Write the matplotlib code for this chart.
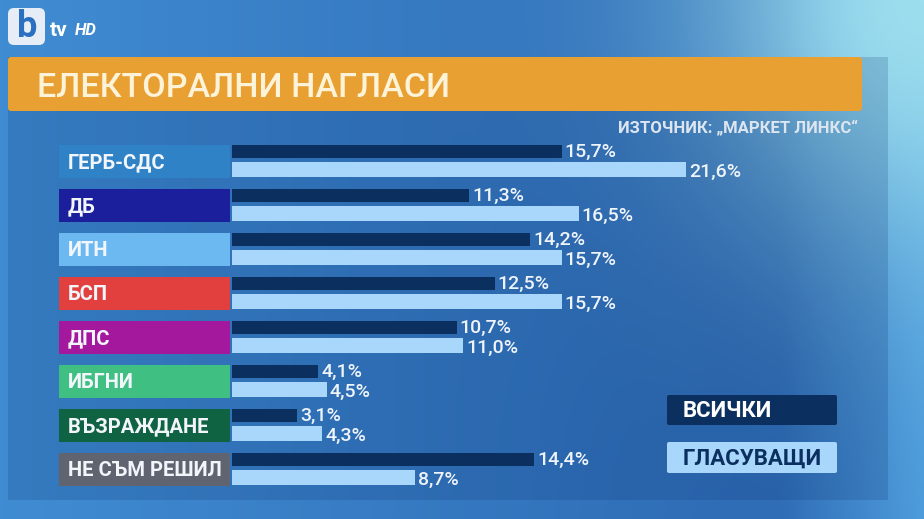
import numpy as np
import matplotlib.pyplot as plt
from matplotlib.patches import FancyBboxPatch, Rectangle

categories = ["ГЕРБ-СДС", "ДБ", "ИТН", "БСП", "ДПС", "ИБГНИ", "ВЪЗРАЖДАНЕ", "НЕ СЪМ РЕШИЛ"]
all_voters = [15.7, 11.3, 14.2, 12.5, 10.7, 4.1, 3.1, 14.4]
voting = [21.6, 16.5, 15.7, 15.7, 11.0, 4.5, 4.3, 8.7]
label_colors = ["#2f82c6", "#1b1f9c", "#6cb9f2", "#e2403f", "#a4189e", "#3fbf82", "#0f6342", "#5f6470"]
series_names = ["ВСИЧКИ", "ГЛАСУВАЩИ"]
title = "ЕЛЕКТОРАЛНИ НАГЛАСИ"
source = "ИЗТОЧНИК: „МАРКЕТ ЛИНКС“"

plt.rcParams['font.family'] = ['Roboto', 'DejaVu Sans']

W, H = 924, 519
fig = plt.figure(figsize=(9.24, 5.19), dpi=100)
bg = fig.add_axes([0, 0, 1, 1])
bg.set_xlim(0, W); bg.set_ylim(H, 0); bg.axis('off')

# background gradient
ny, nx = 60, 100
yy, xx = np.mgrid[0:1:ny * 1j, 0:1:nx * 1j]
c_left = np.array([0x40, 0x8c, 0xd2]) / 255
c_mid = np.array([0x2e, 0x6c, 0xb6]) / 255
c_right = np.array([0x4c, 0x9a, 0xda]) / 255
c_tr = np.array([0x9c, 0xde, 0xee]) / 255
t = np.clip(xx / 0.8, 0, 1)[..., None]
img = c_left * (1 - t) + c_mid * t
r = np.clip((xx - 0.85) / 0.15, 0, 1)[..., None]
img = img * (1 - r) + c_right * r
glow = np.exp(-(((xx - 1.0) ** 2) / 0.06 + (yy ** 2) / 0.25))[..., None]
img = img * (1 - glow) + c_tr * glow
bg.imshow(img, extent=[0, W, H, 0], aspect='auto', interpolation='bilinear', zorder=0)

# panel
bg.add_patch(Rectangle((8, 57), 880, 443, fc=(0.04, 0.18, 0.42, 0.18), ec='none', zorder=1))
# title bar
bg.add_patch(FancyBboxPatch((8, 57), 854, 54, boxstyle="round,pad=0,rounding_size=3",
                            fc="#e9a033", ec='none', zorder=2))
bg.text(37, 97, title, fontsize=24.5, fontweight='medium', color="#fdf3d8",
        va='baseline', ha='left', zorder=3)
bg.text(858, 133, source, fontsize=12, fontweight='bold', color="#dde6f0",
        va='baseline', ha='right', zorder=3)

# logo
bg.add_patch(FancyBboxPatch((8, 8), 37, 37, boxstyle="round,pad=0,rounding_size=6",
                            fc="#e6edf6", ec='none', zorder=3))
bg.text(27, 27, "b", fontsize=26, fontweight='bold', color="#2b6fc0", ha='center', va='center', zorder=4)
bg.text(50, 36, "tv", fontsize=15, fontweight='bold', color="white", ha='left', va='baseline', zorder=4)
bg.text(75, 35, "HD", fontsize=12, fontweight='bold', fontstyle='italic', color="white",
        ha='left', va='baseline', zorder=4)

# legend
bg.add_patch(FancyBboxPatch((667, 395), 170, 30, boxstyle="round,pad=0,rounding_size=2",
                            fc="#0b2f5e", ec='none', zorder=3))
bg.add_patch(FancyBboxPatch((667, 442), 170, 31, boxstyle="round,pad=0,rounding_size=2",
                            fc="#a9d6fb", ec='none', zorder=3))
bg.text(683, 417, series_names[0], fontsize=16, fontweight='bold', color="white",
        va='baseline', ha='left', zorder=4)
bg.text(683, 465, series_names[1], fontsize=16, fontweight='bold', color="#0b2f5e",
        va='baseline', ha='left', zorder=4)

n = len(categories)
y = np.arange(n)
bottom = (H - 491.5) / H
height = 352 / H

# category label boxes
lab = fig.add_axes([59 / W, bottom, 171 / W, height])
lab.set_xlim(0, 1); lab.set_ylim(n - 0.5, -0.5); lab.axis('off')
lab.patch.set_alpha(0)
lab.barh(y, np.ones(n), height=33 / 44, color=label_colors, left=0)
for yi, name in zip(y, categories):
    lab.text(9 / 171, yi + 0.02, name, fontsize=14.5, fontweight='bold', color="#f2f6fa",
             va='center', ha='left')

# bars
ax = fig.add_axes([232 / W, bottom, 630 / W, height])
ax.set_xlim(0, 30); ax.set_ylim(n - 0.5, -0.5); ax.axis('off')
ax.patch.set_alpha(0)
ax.barh(y - 0.227, all_voters, height=0.295, color="#0b2f5e")
ax.barh(y + 0.182, voting, height=0.34, color="#a9d6fb")
for yi, a, v in zip(y, all_voters, voting):
    ax.text(a + 0.15, yi - 0.227, f"{a:.1f}".replace('.', ',') + '%', fontsize=14,
            fontweight='medium', color="#eef4fa", va='center', ha='left')
    ax.text(v + 0.15, yi + 0.24, f"{v:.1f}".replace('.', ',') + '%', fontsize=14,
            fontweight='medium', color="#eef4fa", va='center', ha='left')

fig.savefig("out.png", dpi=100)
